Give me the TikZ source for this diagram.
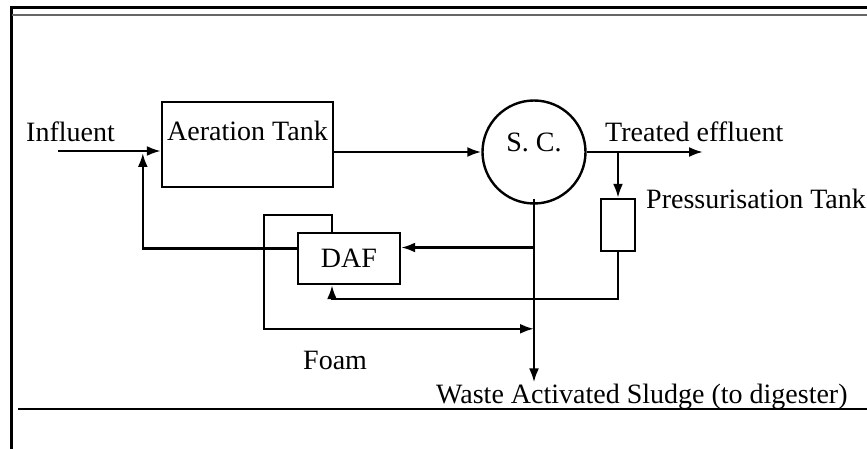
\documentclass[tikz,border=0pt]{standalone}
\usepackage{fontspec}
\setmainfont{Liberation Serif}
\usetikzlibrary{arrows.meta,shapes}
\tikzstyle{tank} = [draw, rectangle, line width=2.4pt]
\tikzstyle{clarif} = [draw, circle, line width=2.4pt, minimum size=103pt, inner sep=0pt]
\tikzstyle{txt} = [anchor=base west, inner sep=0pt]

\begin{document}
\begin{tikzpicture}[x=1pt, y=-1pt, >={Latex[length=14pt,width=10pt]}, line width=2.4pt, font=\fontsize{28}{32}\selectfont]
    \useasboundingbox (0,0) rectangle (867,449);
    % frame
    \draw[line width=3pt] (11,449) -- (11,8) -- (867,8);
    \draw[black!60, line width=1.2pt] (12,15) -- (867,15);
    \draw[line width=2pt] (18,409) -- (867,409);

    \node [tank, minimum width=171pt, minimum height=85pt,
      label={[anchor=base,yshift=-40pt]north:Aeration Tank}] (aer) at (247.5,144.5) {};
    \node [clarif, label={[anchor=base,yshift=10pt]center:S. C.}] (sc) at (534,152) {};
    \node [tank, minimum width=102pt, minimum height=51pt] (daf) at (349,258.5) {DAF};
    \node [tank, minimum width=34pt, minimum height=52pt] (pt) at (618,225) {};

    \node [txt] (infl) at (25,142) {Influent};
    \node [txt] (eff) at (604,142) {Treated effluent};
    \node [txt] (press) at (645,208) {Pressurisation Tank};
    \node [txt] (foam) at (302,369) {Foam};
    \node [txt] (was) at (435,403) {Waste Activated Sludge (to digester)};

    \coordinate (in) at (58,151);
    \coordinate (out) at (703,152);
    \coordinate (feed) at ([yshift=11pt]daf.east);
    \path (in -| aer.west) ++(-18,2) coordinate (ret);

    % main line
    \draw[->] (in) -- (in -| aer.west);
    \draw[->] (aer.east |- sc.west) -- (sc.west);
    \draw[->] (sc.east) -- (out);
    \draw[->] (sc.east -| pt.north) -- (pt.north);
    % sludge and DAF
    \draw[->] ([yshift=6pt]sc.south) -- (sc.south |- was.north);
    \draw[->] (sc.south |- feed) -- (feed);
    \draw[->] (pt.south) |- ([shift={(-17,14)}]daf.south) -- ([xshift=-17pt]daf.south);
    \draw[->] ([yshift=10pt]daf.west) -| (ret);
    % foam
    \draw[->] ([xshift=-17pt]daf.north) -- ++(0,-17) -- ++(-68,0) -- ++(0,114) coordinate (fm) -- (fm -| sc.south);
\end{tikzpicture}
\end{document}
